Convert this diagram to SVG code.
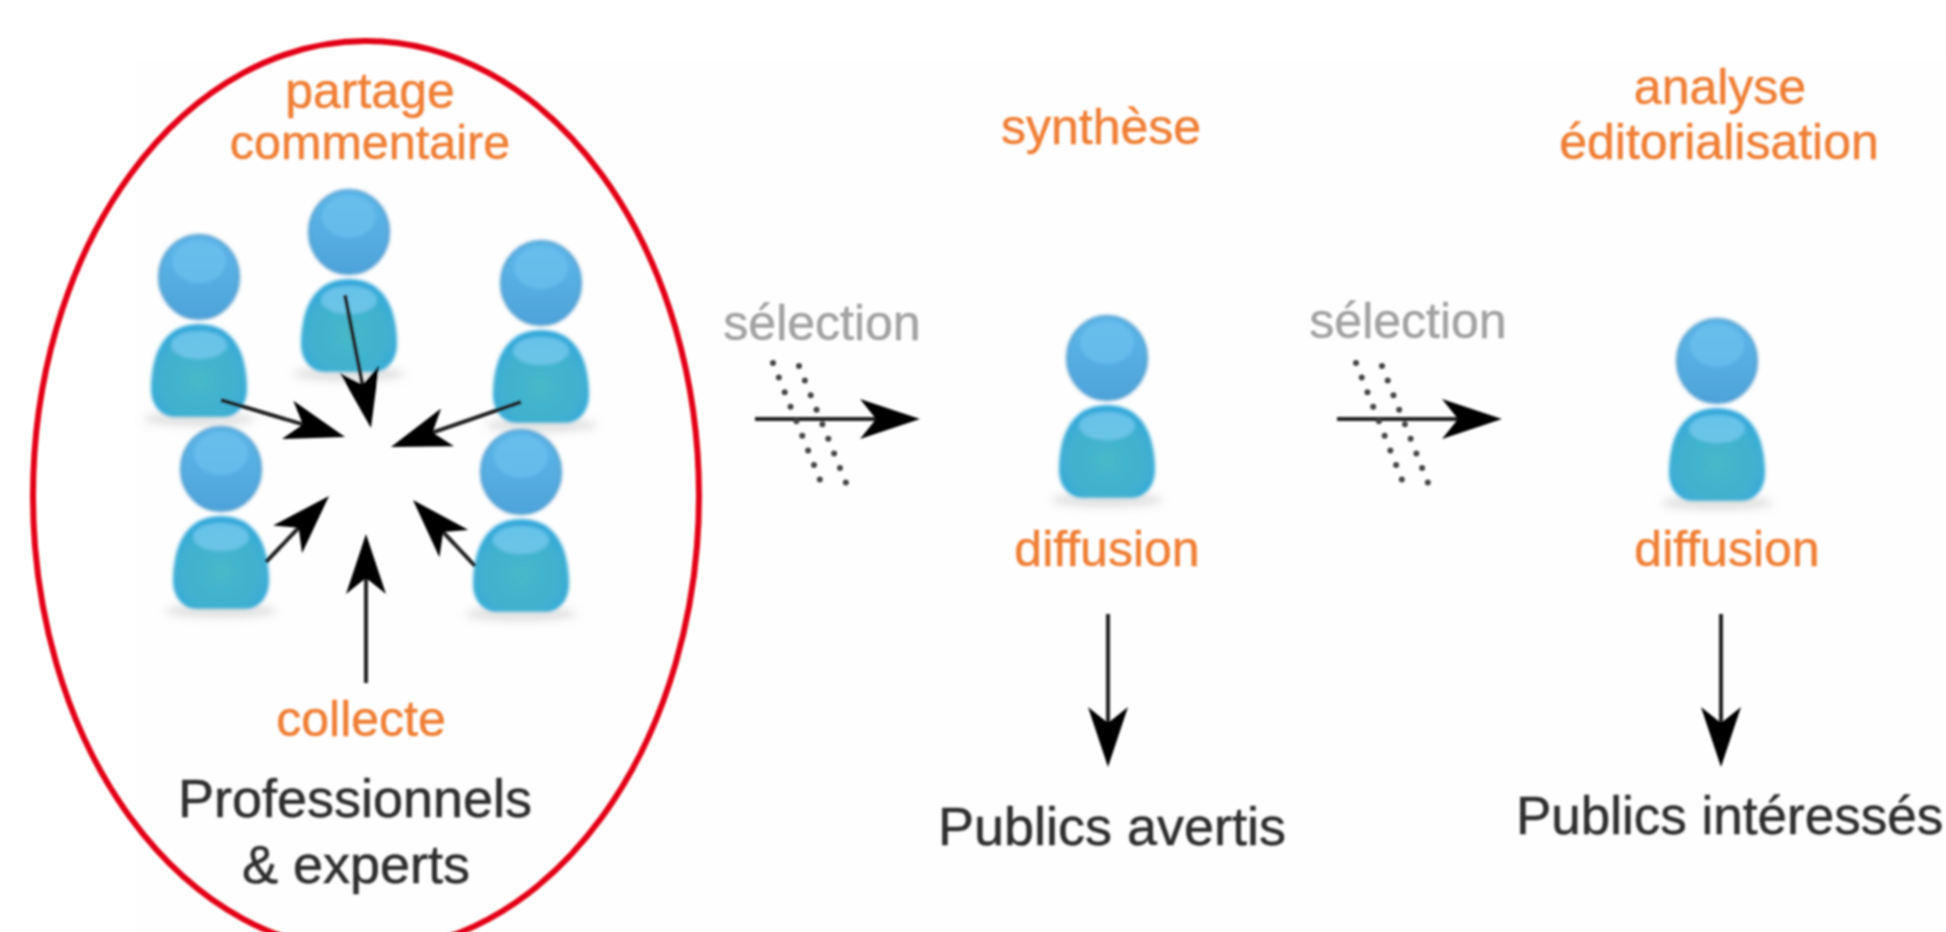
<svg xmlns="http://www.w3.org/2000/svg" xmlns:xlink="http://www.w3.org/1999/xlink" width="1946" height="932" viewBox="0 0 1946 932">
<style>
text{font-family:"Liberation Sans",Arial,sans-serif;text-anchor:middle}
.o{fill:#ef7f36;font-size:50px;stroke:#ef7f36;stroke-width:0.5px}
.g{fill:#a2a2a2;font-size:50px;stroke:#a2a2a2;stroke-width:0.5px}
.k{fill:#2e2e2e;font-size:54px;stroke:#2e2e2e;stroke-width:0.5px}
.a{fill:none;stroke:#222;stroke-width:4;marker-end:url(#head)}
.d{fill:none;stroke:#444;stroke-width:6;stroke-linecap:round;stroke-dasharray:0 1}
</style>
<defs>
<filter id="soft" x="-5%" y="-5%" width="110%" height="110%"><feGaussianBlur stdDeviation="1"/></filter>
<filter id="softer" x="-10%" y="-10%" width="120%" height="120%"><feGaussianBlur stdDeviation="1.6"/></filter>
<filter id="shadowBlur" x="-30%" y="-100%" width="160%" height="300%"><feGaussianBlur stdDeviation="4"/></filter>
<linearGradient id="headFill" x1="0" y1="0" x2="0" y2="1"><stop offset="0" stop-color="#5db7e8"/><stop offset="1" stop-color="#4da3da"/></linearGradient>
<radialGradient id="bodyFill" cx="0.5" cy="0.6" r="0.6"><stop offset="0" stop-color="#47b8c8"/><stop offset="0.7" stop-color="#3fb0d0"/><stop offset="1" stop-color="#30a6dc"/></radialGradient>
<marker id="head" markerUnits="userSpaceOnUse" viewBox="0 -20 60 40" markerWidth="60" markerHeight="40" refX="30" refY="0" orient="auto"><path d="M0,-20 L60,0 L0,20 L16,0 Z" fill="#000"/></marker>
<g id="person">
<ellipse cx="0" cy="142" rx="56" ry="7" fill="#c4c4c4" opacity="0.5" filter="url(#shadowBlur)"/>
<g filter="url(#softer)">
<ellipse cx="0" cy="0" rx="40" ry="42" fill="url(#headFill)" stroke="#4a98cc" stroke-width="2"/>
<ellipse cx="0" cy="-15" rx="27" ry="21" fill="#70c4ef" opacity="0.6"/>
<path d="M-48,112 C-48,85 -40,47 0,47 C40,47 48,85 48,112 C48,128 38,140 24,140 L-24,140 C-38,140 -48,128 -48,112 Z" fill="url(#bodyFill)"/>
<ellipse cx="0" cy="68" rx="28" ry="14" fill="#74c8ee" opacity="0.8"/>
</g>
</g>
</defs>
<rect width="1946" height="932" fill="#fff"/>
<rect x="134" y="62" width="1812" height="870" fill="#fefefe"/>
<g filter="url(#soft)">
<g id="person-1"><use xlink:href="#person" href="#person" x="199" y="277"/></g>
<g id="person-2"><use xlink:href="#person" href="#person" x="349" y="232"/></g>
<g id="person-3"><use xlink:href="#person" href="#person" x="541" y="283"/></g>
<g id="person-4"><use xlink:href="#person" href="#person" x="221" y="469"/></g>
<g id="person-5"><use xlink:href="#person" href="#person" x="521" y="472"/></g>
<g id="person-6"><use xlink:href="#person" href="#person" x="1107" y="358"/></g>
<g id="person-7"><use xlink:href="#person" href="#person" x="1717" y="361"/></g>
<g id="connectors">
<path class="a" d="M345,295 L365.2,398.6"/>
<path class="a" d="M221,400 L316.3,428.4"/>
<path class="a" d="M521,402 L419.3,437.2"/>
<path class="a" d="M266,562 L308.3,517.7"/>
<path class="a" d="M475,566 L433.5,521.8"/>
<path class="a" d="M366,683 L366,564"/>
<path class="a" d="M755,419 L890,419"/>
<path class="a" d="M1337,419 L1472,419"/>
<path class="a" d="M1108,614 L1108,737"/>
<path class="a" d="M1721,614 L1721,737"/>
<path class="d" pathLength="8.03" d="M773,363 L820,480"/>
<path class="d" pathLength="8.03" d="M799,366 L846,483"/>
<path class="d" pathLength="8.03" d="M1356,363 L1402,480"/>
<path class="d" pathLength="8.03" d="M1382,366 L1428,483"/>
</g>
<g id="labels">
<text class="o" x="370" y="108">partage</text>
<text class="o" x="370" y="159" style="font-size:48.5px">commentaire</text>
<text class="o" x="1101" y="144">synthèse</text>
<text class="o" x="1720" y="104">analyse</text>
<text class="o" x="1719" y="159">éditorialisation</text>
<text class="g" x="822" y="340">sélection</text>
<text class="g" x="1408" y="338">sélection</text>
<text class="o" x="1107" y="566">diffusion</text>
<text class="o" x="1727" y="566">diffusion</text>
<text class="o" x="361" y="736">collecte</text>
<text class="k" x="355" y="817">Professionnels</text>
<text class="k" x="356" y="883">&amp; experts</text>
<text class="k" x="1112" y="845">Publics avertis</text>
<text class="k" x="1516" y="834" style="text-anchor:start;font-size:53px">Publics intéressés</text>
</g>
<ellipse id="highlight" cx="366" cy="496" rx="333" ry="455" fill="none" stroke="#e30613" stroke-width="6"/>
</g>
</svg>
